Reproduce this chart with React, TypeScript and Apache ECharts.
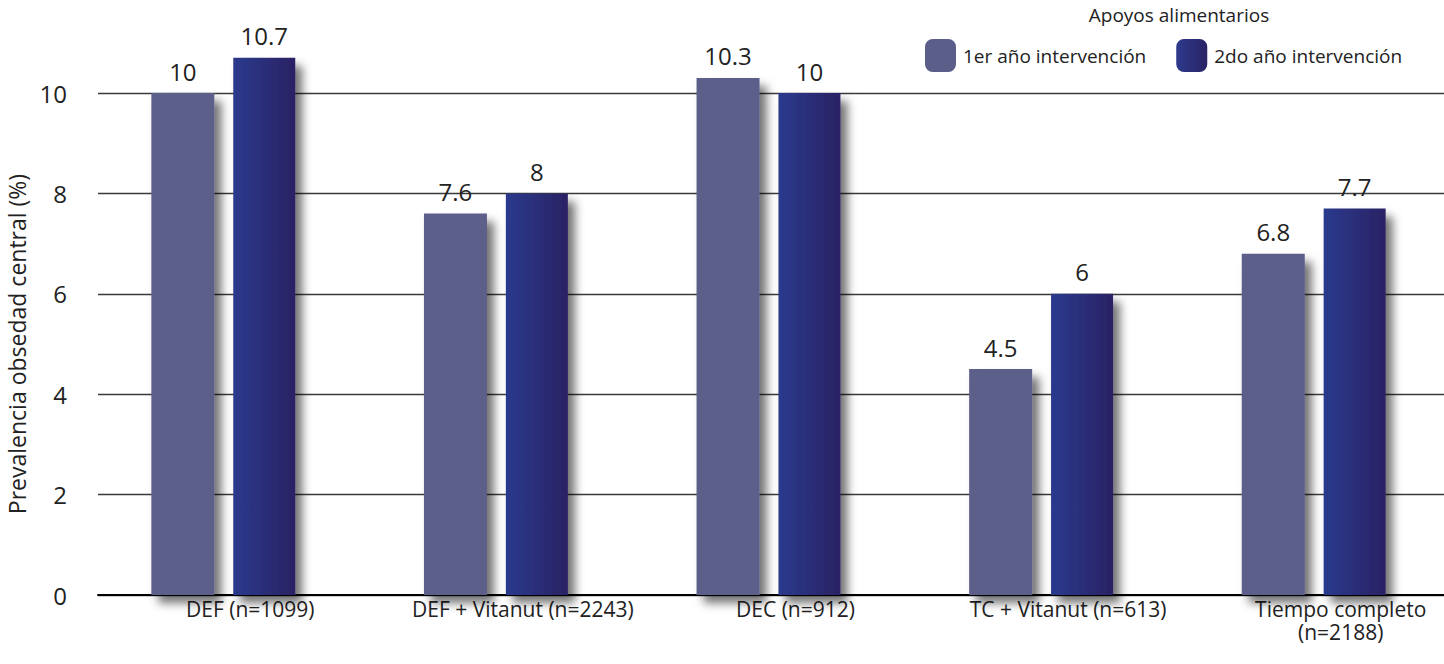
import React, { useEffect, useRef } from "react";
import * as echarts from "echarts";

const categories = [
  "DEF (n=1099)",
  "DEF + Vitanut (n=2243)",
  "DEC (n=912)",
  "TC + Vitanut (n=613)",
  "Tiempo completo\n(n=2188)",
];
const seriesNames = ["1er año intervención", "2do año intervención"];
const year1 = [10, 7.6, 10.3, 4.5, 6.8];
const year2 = [10.7, 8, 10, 6, 7.7];
const yTicks = { min: 0, max: 10, interval: 2 };
const legendTitle = "Apoyos alimentarios";
const yAxisName = "Prevalencia obsedad central (%)";

const FONT = "'Open Sans', 'Noto Sans', sans-serif";

export default function App() {
  const ref = useRef<HTMLDivElement>(null);
  useEffect(() => {
    if (!ref.current) return;
    const chart = echarts.init(ref.current, undefined, { renderer: "svg" });
    const shadow = {
      shadowBlur: 10,
      shadowOffsetX: 7,
      shadowOffsetY: 8,
      shadowColor: "rgba(0,0,0,0.55)",
    };
    const grad = new echarts.graphic.LinearGradient(0, 0, 1, 0, [
      { offset: 0, color: "#2c3a8d" },
      { offset: 1, color: "#2a2264" },
    ]);
    const dataLabel = {
      show: true,
      position: "top",
      distance: 10,
      fontFamily: FONT,
      fontSize: 24,
      color: "#222",
    };
    chart.setOption({
      animation: false,
      backgroundColor: "#ffffff",
      textStyle: { fontFamily: FONT },
      title: {
        text: legendTitle,
        left: 1174,
        top: 0,
        textAlign: "center",
        textStyle: { fontFamily: FONT, fontSize: 19, fontWeight: "normal", color: "#222" },
      },
      legend: {
        left: 925,
        top: 39,
        padding: 0,
        itemWidth: 31,
        itemHeight: 33,
        itemGap: 30,
        textStyle: { fontFamily: FONT, fontSize: 19, color: "#222", padding: [0, 0, 0, 2] },
        data: seriesNames,
      },
      grid: [
        { left: 87, right: -6, top: 93, bottom: 69, containLabel: false, outerBoundsMode: "none" },
        { left: 98, right: 0, top: 93, bottom: 69, containLabel: false, outerBoundsMode: "none" },
      ],
      xAxis: [
        {
          type: "category",
          gridIndex: 0,
          data: categories,
          axisLine: { show: false },
          axisTick: { show: false },
          axisLabel: {
            interval: 0,
            fontFamily: FONT,
            fontSize: 21,
            color: "#222",
            margin: 2,
            lineHeight: 23,
            padding: [0, 0, 0, 54],
          },
        },
        {
          type: "category",
          gridIndex: 1,
          data: categories,
          axisLine: { show: true, lineStyle: { color: "#000", width: 2 } },
          axisTick: { show: false },
          axisLabel: { show: false },
        },
      ],
      yAxis: [
        {
          type: "value",
          gridIndex: 0,
          min: yTicks.min,
          max: yTicks.max,
          interval: yTicks.interval,
          show: false,
          splitLine: { show: false },
        },
        {
          type: "value",
          gridIndex: 1,
          min: yTicks.min,
          max: yTicks.max,
          interval: yTicks.interval,
          name: yAxisName,
          nameLocation: "middle",
          nameGap: 68,
          nameTextStyle: { fontFamily: FONT, fontSize: 23, color: "#222" },
          axisLine: { show: false },
          axisTick: { show: false },
          axisLabel: { fontFamily: FONT, fontSize: 24, color: "#222", margin: 31 },
          splitLine: { show: true, lineStyle: { color: "#3a3a3a", width: 1.3 } },
        },
      ],
      series: [
        {
          name: seriesNames[0],
          type: "bar",
          xAxisIndex: 0,
          yAxisIndex: 0,
          data: year1,
          clip: false,
          z: 3,
          barWidth: 63,
          barGap: "30%",
          itemStyle: { color: "#5c5e8a", ...shadow },
          label: dataLabel,
        },
        {
          name: seriesNames[1],
          type: "bar",
          xAxisIndex: 0,
          yAxisIndex: 0,
          data: year2,
          clip: false,
          z: 3,
          barWidth: 62,
          itemStyle: { color: grad, ...shadow },
          label: dataLabel,
        },
      ],
    });
    return () => chart.dispose();
  }, []);
  return (
    <div
      ref={ref}
      style={{ position: "absolute", left: 0, top: 0, width: 1444, height: 664 }}
    />
  );
}
